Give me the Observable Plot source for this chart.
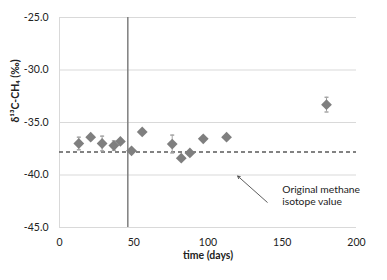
<!DOCTYPE html>
<html>
<head>
<meta charset="utf-8">
<script src="https://cdn.jsdelivr.net/npm/d3@7"></script>
<script src="https://cdn.jsdelivr.net/npm/@observablehq/plot@0.6"></script>
<style>
  html, body { margin: 0; padding: 0; background: #fff; }
  #chart svg { display: block; }
</style>
</head>
<body>
<div id="chart"></div>
<script>
// Data
const days   = [13, 21, 28.7, 36.6, 41, 48.5, 55.7, 75.9, 82, 87.8, 96.8, 112.5, 179.8];
const values = [-37.0, -36.4, -37.0, -37.2, -36.8, -37.7, -35.9, -37.05, -38.4, -37.9, -36.55, -36.4, -33.3];
const errors = [0.6, 0.2, 0.7, 0.45, 0.2, 0.15, 0.2, 0.85, 0.1, 0.2, 0.2, 0.2, 0.7];
const xTicks = [0, 50, 100, 150, 200];
const yTicks = [-45, -40, -35, -30, -25];
const originalValue = -37.8;   // dashed reference line
const treatmentDay = [46];     // vertical line
const annotationText = ["Original methane\nisotope value"];
const xLabel = "time (days)";
const yLabel = "δ¹³C-CH₄ (‰)";

const data = days.map((d, i) => ({day: d, value: values[i], err: errors[i]}));

const capSymbol = {
  draw(ctx, size) { ctx.moveTo(-2, 0); ctx.lineTo(2, 0); }
};

const font = "Lato, 'Open Sans', sans-serif";

const chart = Plot.plot({
  width: 387,
  height: 280,
  marginLeft: 59,
  marginRight: 31,
  marginTop: 17,
  marginBottom: 53,
  style: {fontFamily: font, fontSize: "10px", color: "#222", background: "#fff"},
  x: {domain: [0, 200], ticks: xTicks},
  y: {domain: [-45, -25], ticks: yTicks},
  marks: [
    Plot.gridY(yTicks, {stroke: "#d9d9d9", strokeOpacity: 1}),
    Plot.ruleX([0], {stroke: "#d9d9d9"}),
    Plot.axisX({ticks: xTicks, tickSize: 0, tickPadding: 11, label: null, fontSize: 10.5}),
    Plot.axisY({ticks: yTicks, tickSize: 0, tickPadding: 11, tickFormat: d => d.toFixed(1), label: null, fontSize: 10.5}),
    Plot.ruleX(treatmentDay, {stroke: "#7f7f7f", strokeWidth: 1.5}),
    Plot.ruleY([originalValue], {x1: 0, x2: 200, stroke: "#595959", strokeWidth: 1.5, strokeDasharray: "4,3"}),
    // error bars
    Plot.ruleX(data, {x: "day", y1: d => d.value - d.err, y2: d => d.value + d.err, stroke: "#a6a6a6", strokeWidth: 1}),
    Plot.dot(data, {x: "day", y: d => d.value + d.err, symbol: capSymbol, stroke: "#a6a6a6", r: 2}),
    Plot.dot(data, {x: "day", y: d => d.value - d.err, symbol: capSymbol, stroke: "#a6a6a6", r: 2}),
    // diamonds
    Plot.dot(data, {x: "day", y: "value", symbol: "square", rotate: 45, r: 4.3, fill: "#7f7f7f", stroke: "none"}),
    // annotation
    Plot.arrow([{x1: 139.9, y1: -42.6, x2: 120, y2: -40.1}], {x1: "x1", y1: "y1", x2: "x2", y2: "y2", stroke: "#333", strokeWidth: 0.8, headLength: 5, bend: 0}),
    Plot.text(annotationText, {x: 150, y: -41.95, text: d => d, textAnchor: "start", fontSize: 10.3, lineHeight: 1.15, fill: "#222"}),
    // axis labels
    Plot.text([xLabel], {frameAnchor: "bottom", dy: 31, text: d => d, fontWeight: "bold", fontSize: 10.5, fill: "#222"}),
    Plot.text([yLabel], {frameAnchor: "left", dx: -44, rotate: -90, text: d => d, fontWeight: "bold", fontSize: 10.5, fill: "#222"})
  ]
});

document.getElementById("chart").appendChild(chart);
</script>
</body>
</html>
